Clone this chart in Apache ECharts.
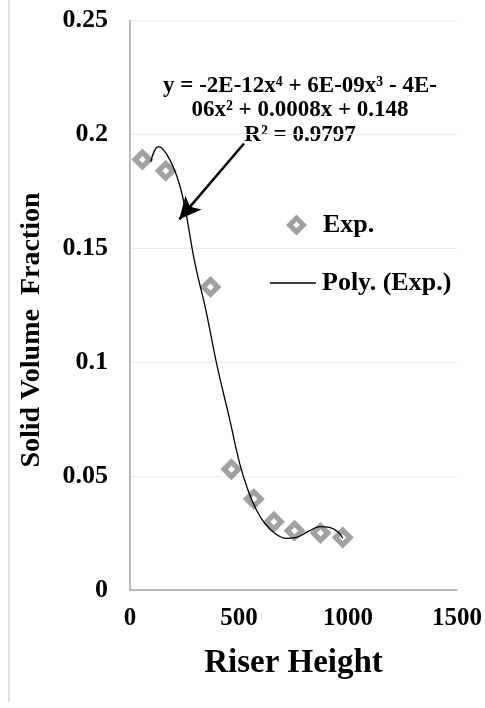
<!DOCTYPE html>
<html>
<head>
<meta charset="utf-8">
<script src="https://cdn.jsdelivr.net/npm/echarts@6/dist/echarts.min.js"></script>
<style>
  html, body { margin: 0; padding: 0; background: #fff; }
  #chart { width: 485px; height: 708px; }
</style>
</head>
<body>
<div id="chart"></div>
<script>
// Measured solid volume fraction along the riser
const expHeight = [57, 164, 369, 465, 568, 660, 755, 874, 976];
const expFraction = [0.189, 0.184, 0.133, 0.053, 0.040, 0.030, 0.026, 0.025, 0.023];

// 4th-order polynomial trend line, sampled along the curve
const trendHeight = [95, 130, 183, 237, 298, 348, 397, 458, 503, 541, 580, 618, 664, 717, 763, 816, 870, 915, 953, 976];
const trendFraction = [0.188, 0.1946, 0.1888, 0.1745, 0.1434, 0.1229, 0.0995, 0.0746, 0.0556, 0.0439, 0.0351, 0.0293, 0.0249, 0.0227, 0.0231, 0.0256, 0.0278, 0.0275, 0.0256, 0.0227];

const xTicks = { min: 0, max: 1500, interval: 500 };
const yTicks = { min: 0, max: 0.25, interval: 0.05 };

const xTitle = 'Riser Height';
const yTitle = 'Solid Volume  Fraction';
const equationLines = ['y = -2E-12x\u2074 + 6E-09x\u00b3 - 4E-', '06x\u00b2 + 0.0008x + 0.148', 'R\u00b2 = 0.9797'];
const arrowFrom = [523, 0.196];
const arrowTo = [226, 0.1627];

const serif = '"Liberation Serif", "Times New Roman", serif';
const grey = '#898989';
// hollow diamond: outer outline with an inner hole wound the other way
const hollowDiamond = 'path://M10 0 L20 10 L10 20 L0 10 Z M10 6.8 L6.8 10 L10 13.2 L13.2 10 Z';

const chart = echarts.init(document.getElementById('chart'));

chart.setOption({
  animation: false,
  backgroundColor: '#fff',
  grid: { left: 130, right: 27, top: 20.5, bottom: 118 },
  xAxis: {
    type: 'value', min: xTicks.min, max: xTicks.max, interval: xTicks.interval,
    name: xTitle, nameLocation: 'middle', nameGap: 57,
    nameTextStyle: { fontFamily: serif, fontWeight: 'bold', fontSize: 33, color: '#000' },
    axisLine: { show: true, lineStyle: { color: '#a6a6a6', width: 1.5 } },
    axisTick: { show: false },
    splitLine: { show: false },
    axisLabel: { fontFamily: serif, fontWeight: 'bold', fontSize: 25, color: '#000', margin: 16, formatter: v => String(v) }
  },
  yAxis: {
    type: 'value', min: yTicks.min, max: yTicks.max, interval: yTicks.interval,
    axisLine: { show: true, lineStyle: { color: '#a6a6a6', width: 1.5 } },
    axisTick: { show: false },
    splitLine: { show: true, lineStyle: { color: '#ececec', width: 1 } },
    axisLabel: { fontFamily: serif, fontWeight: 'bold', fontSize: 26, color: '#000', margin: 22 }
  },
  legend: [
    {
      data: [{ name: 'Exp.', icon: hollowDiamond }], orient: 'vertical', left: 281, top: 207,
      itemWidth: 21, itemHeight: 21,
      itemStyle: { color: grey, borderWidth: 0 },
      textStyle: { fontFamily: serif, fontWeight: 'bold', fontSize: 26, color: '#000', padding: [0, 0, 0, 11] }
    },
    {
      data: [{ name: 'Poly. (Exp.)', icon: 'rect' }], orient: 'vertical', left: 265, top: 265,
      itemWidth: 46, itemHeight: 1.5,
      itemStyle: { color: '#000', borderWidth: 0 },
      textStyle: { fontFamily: serif, fontWeight: 'bold', fontSize: 26, color: '#000', padding: [0, 0, 0, 1] }
    }
  ],
  graphic: [
    { type: 'line', shape: { x1: 9, y1: 0, x2: 9, y2: 702 }, style: { stroke: '#d4d4d4', lineWidth: 1.5 } },
    {
      type: 'text', x: 32, y: 330, rotation: Math.PI / 2,
      style: { text: yTitle, fontFamily: serif, fontWeight: 'bold', fontSize: 28, fill: '#000', align: 'center', verticalAlign: 'middle' }
    },
    {
      type: 'text', x: 300, y: 86,
      style: { text: equationLines[0], fontFamily: serif, fontWeight: 'bold', fontSize: 23, fill: '#000', align: 'center', verticalAlign: 'middle' }
    },
    {
      type: 'text', x: 300, y: 110.5,
      style: { text: equationLines[1], fontFamily: serif, fontWeight: 'bold', fontSize: 23, fill: '#000', align: 'center', verticalAlign: 'middle' }
    },
    {
      type: 'text', x: 300, y: 135,
      style: { text: equationLines[2], fontFamily: serif, fontWeight: 'bold', fontSize: 23, fill: '#000', align: 'center', verticalAlign: 'middle' }
    }
  ],
  series: [
    {
      name: 'Poly. (Exp.)', type: 'line', smooth: 0.4, symbol: 'none',
      data: trendHeight.map((h, i) => [h, trendFraction[i]]),
      lineStyle: { color: '#000', width: 1.3 },
      itemStyle: { color: '#000' },
      z: 3
    },
    {
      name: 'Exp.', type: 'scatter', symbol: hollowDiamond, symbolSize: 22,
      data: expHeight.map((h, i) => [h, expFraction[i]]),
      itemStyle: { color: grey, borderWidth: 0 },
      z: 2,
      markLine: {
        silent: true, animation: false,
        symbol: ['none', 'arrow'],
        lineStyle: { color: '#000', width: 2.5, type: 'solid' },
        label: { show: false },
        data: [[
          { coord: arrowFrom, symbol: 'none' },
          { coord: arrowTo, symbol: 'arrow', symbolSize: [16, 22] }
        ]]
      }
    }
  ]
});
</script>
</body>
</html>
